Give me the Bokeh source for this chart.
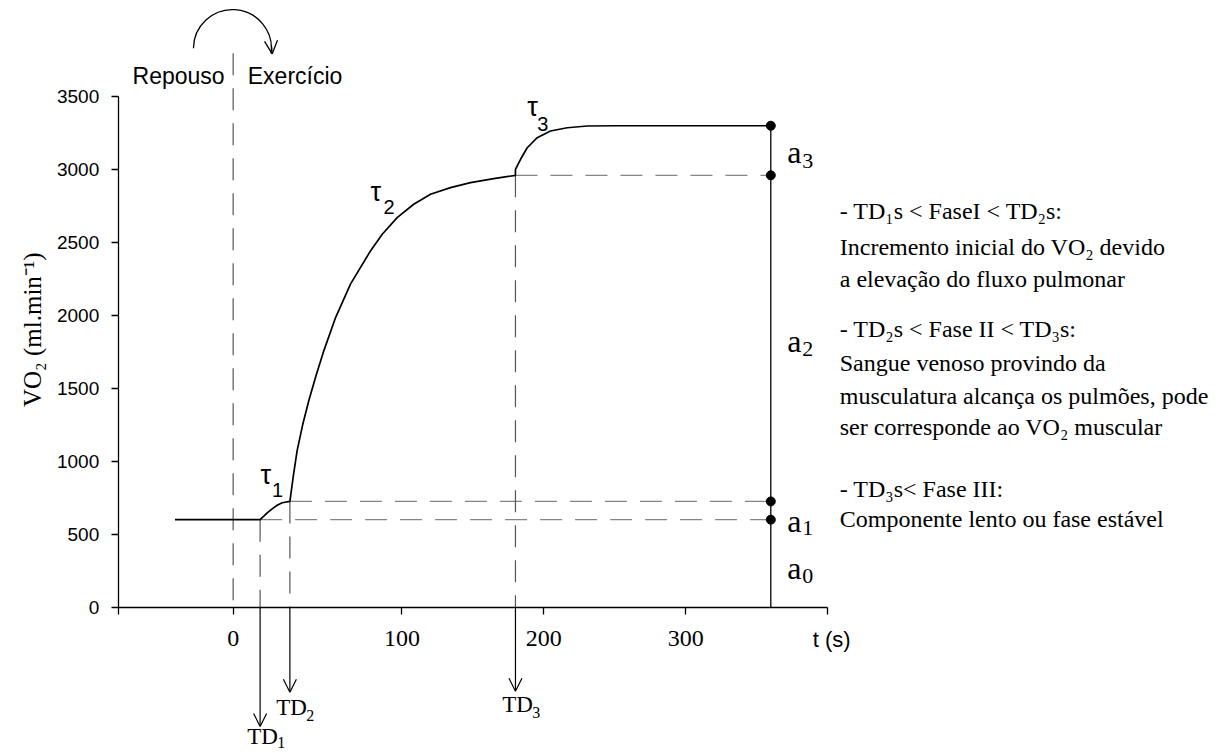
import math
from bokeh.plotting import figure
from bokeh.models import Range1d, FixedTicker, LinearAxis, Arrow, OpenHead
from bokeh.core.properties import value
from bokeh.embed import file_html
from bokeh.resources import INLINE

# ---------------- data (t in s, VO2 in ml/min) ----------------
rest_t = [-60, 0]
rest_vo2 = [600, 600]
phase1_t = [0, 2.6, 5, 8.5, 12, 15.6, 21]
phase1_vo2 = [600, 624, 647, 674, 699, 716, 725]
phase2_t = [21, 23.5, 26.1, 30, 34.3, 39.5, 44.9, 53.2, 63.7, 77.8, 86.1, 96.6, 108.3, 120.1, 134.2, 148.3, 164.7, 180]
phase2_vo2 = [725, 905, 1073, 1250, 1415, 1590, 1757, 1985, 2214, 2442, 2556, 2670, 2762, 2830, 2876, 2910, 2937, 2960]
phase3_t = [180, 180, 183.6, 188.3, 195.3, 204.7, 216.5, 230.6, 251.7, 360]
phase3_vo2 = [2960, 3001, 3070, 3149, 3218, 3264, 3286, 3298, 3300, 3300]

onset_t = -19                 # start of exercise (labelled "0")
td_t = [0, 21, 180]           # TD1, TD2, TD3
td_vo2 = [600, 725, 2960]     # VO2 level at each TD
end_t = 360
amp_levels = [3300, 2960, 725, 600]

x_ticks = [-100, -19, 100, 200, 300, 400]
x_tick_text = {-100: "", -19: "0", 400: ""}
y_ticks = [0, 500, 1000, 1500, 2000, 2500, 3000, 3500]

tau_names = ["τ", "τ", "τ"]
tau_subs = ["1", "2", "3"]
amp_subs = ["3", "2", "1", "0"]
td_subs = ["1", "2", "3"]

notes = [
    "- TD₁s < FaseI < TD₂s:",
    "Incremento inicial do VO₂ devido",
    "a elevação do fluxo pulmonar",
    "- TD₂s < Fase II < TD₃s:",
    "Sangue venoso provindo da",
    "musculatura alcança os pulmões, pode",
    "ser corresponde ao VO₂ muscular",
    "- TD₃s< Fase III:",
    "Componente lento ou fase estável",
]

# ---------------- figure ----------------
SERIF = value("Liberation Serif")
SANS = value("Liberation Sans")

p = figure(width=1220, height=753, output_backend="svg", toolbar_location=None,
           x_range=Range1d(-183.0, 677.0), y_range=Range1d(-1002.7, 4158.3),
           x_axis_type=None, y_axis_type=None, min_border=0)
p.outline_line_color = None
p.background_fill_color = "white"
p.border_fill_color = "white"

xaxis = LinearAxis(fixed_location=0, bounds=(-100, 400), ticker=FixedTicker(ticks=x_ticks),
                   major_label_overrides=x_tick_text)
yaxis = LinearAxis(fixed_location=-100, bounds=(0, 3500), ticker=FixedTicker(ticks=y_ticks))
for ax in (xaxis, yaxis):
    ax.axis_line_width = 1.3
    ax.axis_line_color = "black"
    ax.major_tick_line_width = 1.3
    ax.major_tick_line_color = "black"
    ax.major_tick_in = 0
    ax.major_tick_out = 7
    ax.minor_tick_line_color = None
    ax.major_label_text_color = "black"
xaxis.major_label_text_font = "Liberation Serif"
xaxis.major_label_text_font_size = "24px"
xaxis.major_label_standoff = 17
yaxis.major_label_text_font = "Liberation Sans"
yaxis.major_label_text_font_size = "19px"
yaxis.major_label_standoff = 12
p.add_layout(xaxis, "below")
p.add_layout(yaxis, "left")

DASH = "22 13"
HGRAY = "#858585"
VGRAY = "#555555"

# horizontal dashed levels from each TD to the end
p.segment(x0=td_t, y0=td_vo2, x1=[end_t] * 3, y1=td_vo2,
          line_color=HGRAY, line_width=1.3, line_dash=DASH)
# vertical dashed lines at each TD down to the axis
p.segment(x0=td_t, y0=td_vo2, x1=td_t, y1=[0, 0, 0],
          line_color=VGRAY, line_width=1.2, line_dash=DASH)
# exercise onset line
p.segment(x0=[onset_t], y0=[3797], x1=[onset_t], y1=[0],
          line_color=VGRAY, line_width=1.2, line_dash=DASH)

# response curve
curve_t = rest_t + phase1_t[1:] + phase2_t[1:] + phase3_t[1:]
curve_v = rest_vo2 + phase1_vo2[1:] + phase2_vo2[1:] + phase3_vo2[1:]
p.line(curve_t, curve_v, line_color="black", line_width=1.7)

# amplitude bar at the end
p.segment(x0=[end_t], y0=[0], x1=[end_t], y1=[max(amp_levels)],
          line_color="black", line_width=1.3)
p.scatter(x=[end_t] * 4, y=amp_levels, size=9, color="black")

# TD arrows below the axis
td_tip = [-817, -583, -576]
for t, tip in zip(td_t, td_tip):
    p.add_layout(Arrow(end=OpenHead(size=13, line_width=1.2, line_color="black"),
                       x_start=t, y_start=0, x_end=t, y_end=tip,
                       line_width=1.2, line_color="black"))

# curved arrow (rest -> exercise)
p.arc(x=[-19.5], y=[3829], radius=39, radius_units="screen",
      start_angle=math.radians(-7.6), end_angle=math.radians(179.6),
      direction="anticlock", line_color="black", line_width=1.3)
p.add_layout(Arrow(end=OpenHead(size=13, line_width=1.3, line_color="black"),
                   x_start=7.97, y_start=3852, x_end=8.53, y_end=3793,
                   line_width=1.3, line_color="black"))

# ---------------- texts ----------------
p.text(x=[-25], y=[3642], text=["Repouso"], text_font=SANS, text_font_size=value("23px"),
       text_align="right", text_baseline="alphabetic", text_color="black")
p.text(x=[-8.7], y=[3642], text=["Exercício"], text_font=SANS, text_font_size=value("23px"),
       text_align="left", text_baseline="alphabetic", text_color="black")
p.text(x=[389.5], y=[-222], text=["t (s)"], text_font=SANS, text_font_size=value("22px"),
       text_align="left", text_baseline="alphabetic", text_color="black")
p.text(x=[-160.7], y=[1902], text=["VO₂ (ml.min⁻¹)"], angle=math.pi / 2,
       text_font=SERIF, text_font_size=value("25px"),
       text_align="center", text_baseline="middle", text_color="black")

# tau labels
p.text(x=[0.3, 77.8, 188.3], y=[903, 2843, 3425], text=tau_names, text_font=SANS,
       text_font_size=value("27px"), text_align="left", text_baseline="alphabetic", text_color="black")
p.text(x=[8.4, 87, 195.3], y=[800, 2740, 3311], text=tau_subs, text_font=SANS,
       text_font_size=value("20px"), text_align="left", text_baseline="alphabetic", text_color="black")

# amplitude labels
p.text(x=[371.6] * 4, y=[3117, 1826, 592, 272], text=["a"] * 4, text_font=SERIF,
       text_font_size=value("32px"), text_align="left", text_baseline="alphabetic", text_color="black")
p.text(x=[382.1] * 4, y=[3060, 1769, 546, 211], text=amp_subs, text_font=SERIF,
       text_font_size=value("22px"), text_align="left", text_baseline="alphabetic", text_color="black")

# TD labels
p.text(x=[-9.1, 11.35, 170.7], y=[-886, -687, -665], text=["TD"] * 3, text_font=SERIF,
       text_font_size=value("23px"), text_align="left", text_baseline="alphabetic", text_color="black")
p.text(x=[12.05, 32.5, 191.8], y=[-925, -742, -722], text=td_subs, text_font=SERIF,
       text_font_size=value("16px"), text_align="left", text_baseline="alphabetic", text_color="black")

# phase notes
note_y = [2713, 2467, 2247, 1905, 1672, 1445, 1233, 808, 602]
p.text(x=[408.6] * len(notes), y=note_y, text=notes, text_font=SERIF,
       text_font_size=value("24px"), text_align="left", text_baseline="middle", text_color="black")

open("out.html", "w").write(file_html(p, INLINE))
